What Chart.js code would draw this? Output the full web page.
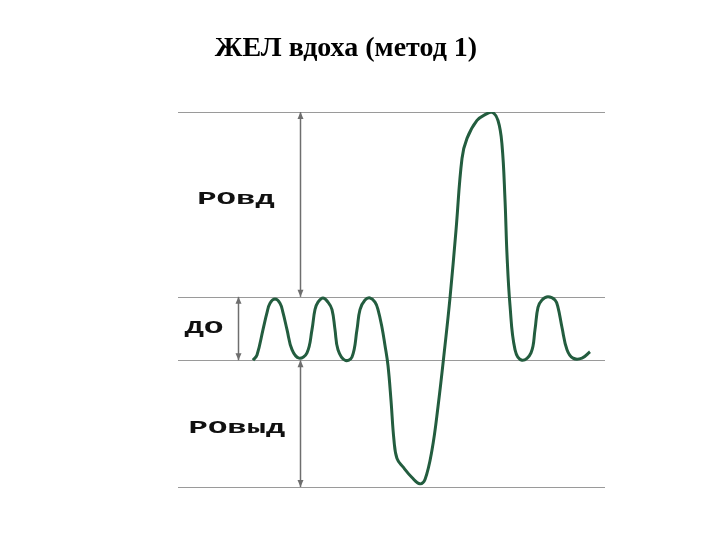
<!DOCTYPE html>
<html>
<head>
<meta charset="utf-8">
<script src="https://cdn.jsdelivr.net/npm/chart.js@4/dist/chart.umd.min.js"></script>
<style>
  body { margin: 0; background: #ffffff; }
  #wrap { width: 720px; height: 540px; }
</style>
</head>
<body>
<div id="wrap"><canvas id="spiro" width="720" height="540"></canvas></div>
<script>
// время, с
const times = [3.75, 3.95, 4.25, 4.45, 4.6, 4.85, 5.1, 5.25, 5.45, 5.7, 6.05,
    6.45, 6.7, 6.85, 7.0, 7.25, 7.5, 7.7, 7.85, 8.0, 8.35,
    8.7, 8.95, 9.1, 9.35, 9.6, 9.85, 10.0, 10.2, 10.35, 10.5,
    10.65, 10.8, 10.95, 11.25, 11.7, 12.1, 12.35, 12.7, 13.0, 13.35, 13.6, 13.9,
    14.2, 14.45, 14.95, 15.4, 15.7, 16.0, 16.2, 16.35, 16.45, 16.6, 16.85, 17.2,
    17.65, 17.85, 18.0, 18.2, 18.5, 18.85, 19.0, 19.2, 19.45, 19.75, 20.2, 20.6];
// объём, мл
const volumes = [1200, 1250, 1490, 1650, 1740, 1780, 1740, 1650, 1490, 1300, 1220,
    1270, 1490, 1680, 1750, 1790, 1750, 1680, 1490, 1300, 1200,
    1230, 1490, 1680, 1770, 1790, 1750, 1680, 1510, 1340, 1150,
    820, 440, 270, 190, 90, 30, 70, 350, 760, 1340, 1790, 2430,
    3110, 3300, 3470, 3530, 3550, 3470, 3240, 2720, 2200, 1720, 1300, 1200,
    1270, 1490, 1700, 1770, 1800, 1770, 1700, 1510, 1300, 1220, 1220, 1280];
// уровни: дно РОвыд, верх РОвыд / низ ДО, верх ДО, верх РОвд
const levels = [0, 1200, 1800, 3550];
const zoneLabels = ['РОвд', 'ДО', 'РОвыд'];
const titleText = 'ЖЕЛ вдоха (метод 1)';

const points = times.map((t, i) => ({ x: t, y: volumes[i] }));

const drawArrow = (ctx, x, y1, y2) => {
    ctx.beginPath();
    ctx.moveTo(x, y1);
    ctx.lineTo(x, y2);
    ctx.stroke();
    // наконечники
    ctx.beginPath();
    ctx.moveTo(x - 3, y1 + 7);
    ctx.lineTo(x, y1);
    ctx.lineTo(x + 3, y1 + 7);
    ctx.closePath();
    ctx.fill();
    ctx.beginPath();
    ctx.moveTo(x - 3, y2 - 7);
    ctx.lineTo(x, y2);
    ctx.lineTo(x + 3, y2 - 7);
    ctx.closePath();
    ctx.fill();
};

const wideText = (ctx, text, x, y) => {
    ctx.save();
    ctx.translate(x, y);
    ctx.scale(1.7, 1);
    ctx.fillText(text, 0, 0);
    ctx.restore();
};

const levelsPlugin = {
    id: 'levels',
    beforeDatasetsDraw(chart) {
        const { ctx, chartArea, scales: { x, y } } = chart;
        ctx.save();
        ctx.strokeStyle = '#9a9a9a';
        ctx.lineWidth = 1;
        levels.forEach(v => {
            const py = Math.round(y.getPixelForValue(v)) + 0.5;
            ctx.beginPath();
            ctx.moveTo(chartArea.left, py);
            ctx.lineTo(chartArea.right, py);
            ctx.stroke();
        });

        ctx.strokeStyle = '#6e6e6e';
        ctx.fillStyle = '#6e6e6e';
        ctx.lineWidth = 1.5;
        const ax = Math.round(x.getPixelForValue(6.1)) + 0.5;
        const dx = Math.round(x.getPixelForValue(3.0)) + 0.5;
        drawArrow(ctx, ax, y.getPixelForValue(levels[3]), y.getPixelForValue(levels[2]));
        drawArrow(ctx, dx, y.getPixelForValue(levels[2]), y.getPixelForValue(levels[1]));
        drawArrow(ctx, ax, y.getPixelForValue(levels[1]), y.getPixelForValue(levels[0]));

        ctx.fillStyle = '#111111';
        ctx.font = 'bold 19px "Liberation Mono", "Courier New", monospace';
        ctx.textAlign = 'center';
        ctx.textBaseline = 'middle';
        wideText(ctx, zoneLabels[0], x.getPixelForValue(2.9), y.getPixelForValue(2720));
        wideText(ctx, zoneLabels[1], x.getPixelForValue(1.3), y.getPixelForValue(1500));
        wideText(ctx, zoneLabels[2], x.getPixelForValue(2.95), y.getPixelForValue(560));

        ctx.fillStyle = '#000000';
        ctx.font = 'bold 28px "Liberation Serif"';
        ctx.fillText(titleText, 346, 49);
        ctx.restore();
    }
};

new Chart(document.getElementById('spiro').getContext('2d'), {
    type: 'line',
    data: {
        datasets: [
            {
                label: 'Спирограмма',
                data: points,
                borderColor: '#235d3f',
                borderWidth: 3,
                pointRadius: 0,
                fill: false,
                tension: 0.4,
            }
        ]
    },
    options: {
        responsive: false,
        animation: false,
        layout: {
            padding: { left: 178, right: 115, top: 112, bottom: 53 }
        },
        scales: {
            x: { type: 'linear', min: 0, max: 21.35, display: false },
            y: { min: 0, max: 3550, display: false },
        },
        plugins: {
            legend: { display: false },
            tooltip: { enabled: false },
        }
    },
    plugins: [levelsPlugin]
});
</script>
</body>
</html>
